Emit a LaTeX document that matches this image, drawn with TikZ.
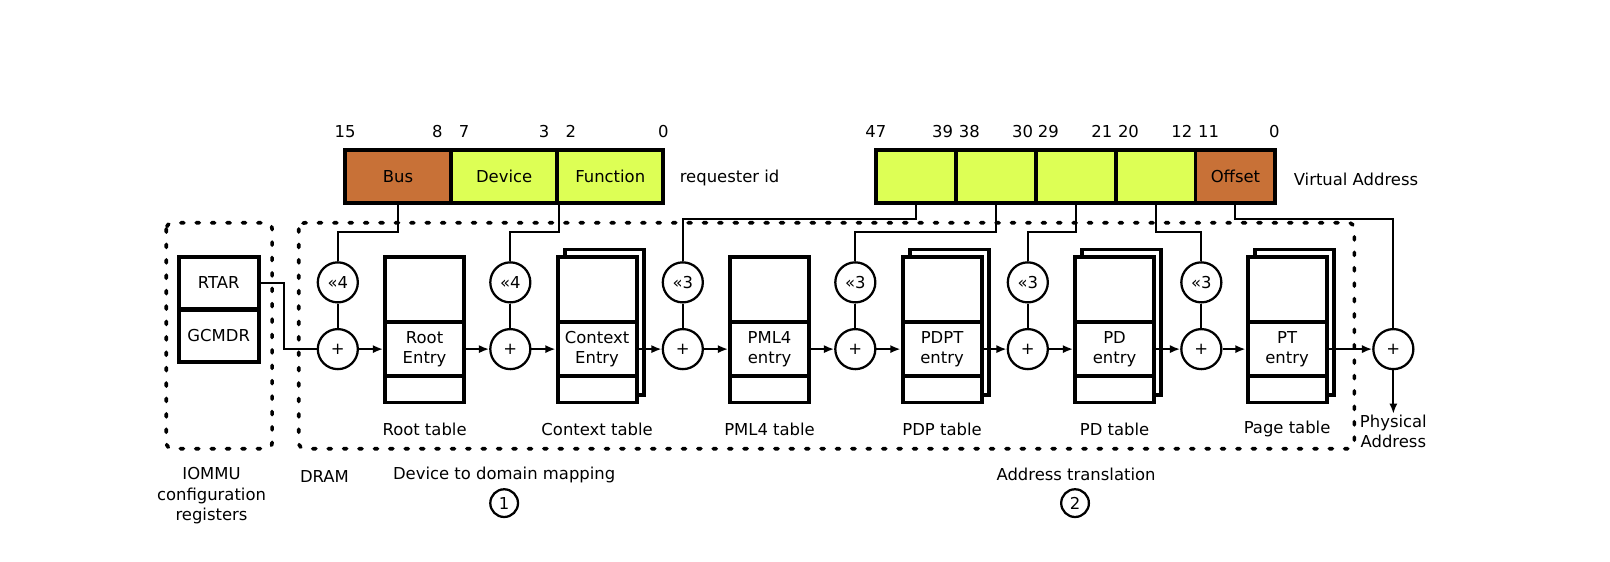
\documentclass[tikz,border=0pt]{standalone}
\usepackage{fontspec}
\setmainfont{DejaVu Sans}
\usetikzlibrary{arrows.meta}
\definecolor{busorange}{HTML}{C87137}
\definecolor{fieldgreen}{HTML}{DDFF55}
\begin{document}
\begin{tikzpicture}[x=0.5pt,y=-0.5pt,
  font=\fontsize{8}{10}\selectfont,
  field/.style={draw, line width=1.9pt, minimum width=#1, minimum height=26pt, inner sep=0pt},
  reg/.style={draw, line width=1.9pt, minimum width=39pt, minimum height=25.5pt, inner sep=0pt},
  tbl/.style={draw, fill=white, line width=1.9pt, minimum width=38.5pt, minimum height=71pt, inner sep=0pt},
  entrybox/.style={draw, fill=white, line width=1.9pt, minimum width=38.5pt, minimum height=26pt, align=center, inner sep=0pt},
  op/.style={circle, draw, fill=white, line width=1.1pt, minimum size=19.5pt, inner sep=0pt},
  num/.style={circle, draw, line width=1.1pt, minimum size=13.5pt, inner sep=0pt},
  conn/.style={line width=1pt},
  arr/.style={line width=1pt, -{Latex[length=5pt,width=4pt]}},
  dotbox/.style={line width=1.8pt, dash pattern=on 1.5pt off 6pt, line cap=round, rounded corners=3pt}
]
\useasboundingbox (0,0) rectangle (1568,547);

% dotted regions
\draw[dotbox] (162,217) rectangle (265,437);
\draw[dotbox] (291,217) rectangle (1319,437);

% requester id
\node[field=51.65pt, fill=busorange] (bus) at (387.7,172) {Bus};
\node[field=51.65pt, fill=fieldgreen] (dev) at (491,172) {Device};
\node[field=51.65pt, fill=fieldgreen] (fun) at (594.3,172) {Function};
\node[anchor=west] (rid) at (655,173) {requester id};
\node (b15) at (336,128) {15};
\node (b8) at (426,128) {8};
\node (b7) at (452,128) {7};
\node (b3) at (530,128) {3};
\node (b2) at (556,128) {2};
\node (b0) at (646,128) {0};

% virtual address
\node[field=38.9pt, fill=fieldgreen] (va1) at (892,172) {};
\node[field=38.9pt, fill=fieldgreen] (va2) at (969.8,172) {};
\node[field=38.9pt, fill=fieldgreen] (va3) at (1047.6,172) {};
\node[field=38.9pt, fill=fieldgreen] (va4) at (1125.4,172) {};
\node[field=38.9pt, fill=busorange] (off) at (1203.2,172) {Offset};
\node[anchor=west] (vatxt) at (1253,175) {Virtual Address};
\node (v47) at (853,128) {47};
\node (v39) at (918,128) {39};
\node (v38) at (944,128) {38};
\node (v30) at (996,128) {30};
\node (v29) at (1021,128) {29};
\node (v21) at (1073,128) {21};
\node (v20) at (1099,128) {20};
\node (v12) at (1151,128) {12};
\node (v11) at (1177,128) {11};
\node (v0) at (1241,128) {0};

% registers
\node[reg] (rtar) at (213,275.5) {RTAR};
\node[reg] (gcmdr) at (213,327) {GCMDR};

% tables
\node[tbl] (t1) at (413.5,321) {};
\node[entrybox] (e1) at (413.5,340) {Root\\Entry};
\node (l1) at (413.5,418) {Root table};

\node[tbl] (s2) at (588.5,314) {};
\node[tbl] (t2) at (581.5,321) {};
\node[entrybox] (e2) at (581.5,340) {Context\\Entry};
\node (l2) at (581.5,418) {Context table};

\node[tbl] (t3) at (749.5,321) {};
\node[entrybox] (e3) at (749.5,340) {PML4\\entry};
\node (l3) at (749.5,418) {PML4 table};

\node[tbl] (s4) at (924.5,314) {};
\node[tbl] (t4) at (917.5,321) {};
\node[entrybox] (e4) at (917.5,340) {PDPT\\entry};
\node (l4) at (917.5,418) {PDP table};

\node[tbl] (s5) at (1092.5,314) {};
\node[tbl] (t5) at (1085.5,321) {};
\node[entrybox] (e5) at (1085.5,340) {PD\\entry};
\node (l5) at (1085.5,418) {PD table};

\node[tbl] (s6) at (1260.5,314) {};
\node[tbl] (t6) at (1253.5,321) {};
\node[entrybox] (e6) at (1253.5,340) {PT\\entry};
\node (l6) at (1253.5,418) {Page table};

% operators
\node[op] (sh1) at (329,275) {«4};
\node[op] (p1) at (329,340) {+};
\node[op] (sh2) at (497,275) {«4};
\node[op] (p2) at (497,340) {+};
\node[op] (sh3) at (665,275) {«3};
\node[op] (p3) at (665,340) {+};
\node[op] (sh4) at (833,275) {«3};
\node[op] (p4) at (833,340) {+};
\node[op] (sh5) at (1001,275) {«3};
\node[op] (p5) at (1001,340) {+};
\node[op] (sh6) at (1170,275) {«3};
\node[op] (p6) at (1170,340) {+};
\node[op] (pf) at (1357,340) {+};

% connectors
\coordinate (rt) at (277,275.5);
\draw[conn] (rtar.east) -- (rt) |- (p1.west);
\foreach \i in {1,...,6} { \draw[conn] (sh\i) -- (p\i); }
\draw[arr] (p1.east) -- (e1.west);
\draw[arr] (e1.east) -- (p2.west);
\draw[arr] (p2.east) -- (e2.west);
\draw[arr] (e2.east) -- (p3.west);
\draw[arr] (p3.east) -- (e3.west);
\draw[arr] (e3.east) -- (p4.west);
\draw[arr] (p4.east) -- (e4.west);
\draw[arr] (e4.east) -- (p5.west);
\draw[arr] (p5.east) -- (e5.west);
\draw[arr] (e5.east) -- (p6.west);
\draw[arr] (p6.east) -- (e6.west);
\draw[arr] (e6.east) -- (pf.west);

\draw[conn] (bus.south) -- ++(0,26) -| (sh1.north);
\draw[conn] (dev.south east) -- ++(0,26) -| (sh2.north);
\draw[conn] (va1.south) -- ++(0,13) -| (sh3.north);
\draw[conn] (va2.south) -- ++(0,26) -| (sh4.north);
\draw[conn] (va3.south) -- ++(0,26) -| (sh5.north);
\draw[conn] (va4.south) -- ++(0,26) -| (sh6.north);
\draw[conn] (off.south) -- ++(0,13) -| (pf.north);

\coordinate (pa) at (1357,403);
\draw[arr] (pf.south) -- (pa);
\node[align=center] (phys) at (1357,420) {Physical\\Address};

% bottom labels
\node[align=center] (iommu) at (206,483) {IOMMU\\configuration\\registers};
\node (dram) at (316,464) {DRAM};
\node (d2d) at (491,463) {Device to domain mapping};
\node[num] (n1) at (491,490) {1};
\node (atr) at (1048,462) {Address translation};
\node[num] (n2) at (1047,490) {2};
\end{tikzpicture}
\end{document}
